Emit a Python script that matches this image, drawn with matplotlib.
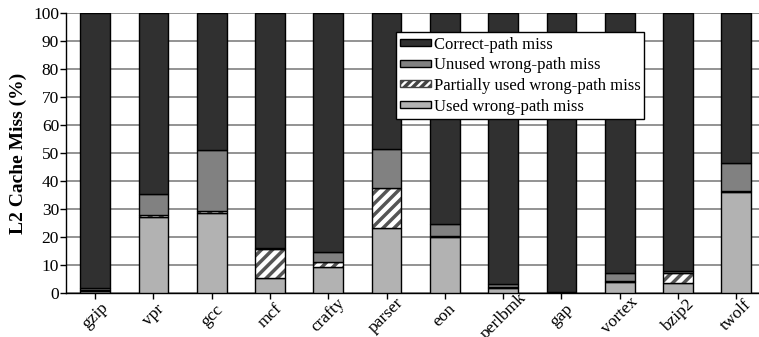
import numpy as np
import matplotlib
matplotlib.use("Agg")
import matplotlib.pyplot as plt
from matplotlib.patches import Patch

plt.rcParams['font.family'] = ['Liberation Serif', 'DejaVu Serif']
plt.rcParams['hatch.linewidth'] = 2.5

benchmarks = ["gzip", "vpr", "gcc", "mcf", "crafty", "parser",
              "eon", "perlbmk", "gap", "vortex", "bzip2", "twolf"]

# percent of L2 misses, stacked bottom to top
used = [1.0, 27.4, 28.6, 5.3, 9.3, 23.4, 20.2, 2.0, 0.2, 3.9, 3.8, 36.3]
partial = [0.3, 0.5, 0.9, 10.6, 2.0, 14.1, 0.3, 0.4, 0.1, 0.6, 3.3, 0.3]
unused = [0.6, 7.6, 21.7, 0.2, 3.3, 14.0, 4.1, 1.0, 0.1, 2.6, 1.0, 9.8]
correct = [100 - a - b - c for a, b, c in zip(used, partial, unused)]

labels = ["Correct-path miss", "Unused wrong-path miss",
          "Partially used wrong-path miss", "Used wrong-path miss"]

x = np.arange(len(benchmarks))
w = 0.51
lw = 1.0

fig = plt.figure(figsize=(7.59, 3.37), dpi=100)
ax = fig.add_axes([66/759, 1 - 293.3/337, 1 - 66/759, 280/337])

b_used = np.array(used)
b_part = b_used + np.array(partial)
b_unused = b_part + np.array(unused)

ax.bar(x, used, w, color="#b2b2b2", edgecolor="black", linewidth=lw, zorder=3)
# hatched segment: gray stripes on white, then a black outline on top
ax.bar(x, partial, w, bottom=b_used, color="white", edgecolor="#555555",
       hatch="///", linewidth=0, zorder=3)
ax.bar(x, partial, w, bottom=b_used, fill=False, edgecolor="black",
       linewidth=lw, zorder=3)
ax.bar(x, unused, w, bottom=b_part, color="#818181", edgecolor="black",
       linewidth=lw, zorder=3)
ax.bar(x, correct, w, bottom=b_unused, color="#303030", edgecolor="black",
       linewidth=lw, zorder=3)

handles = [
    Patch(facecolor="#303030", edgecolor="black", linewidth=lw),
    Patch(facecolor="#818181", edgecolor="black", linewidth=lw),
    Patch(facecolor="white", edgecolor="#444444", hatch="////", linewidth=lw),
    Patch(facecolor="#b2b2b2", edgecolor="black", linewidth=lw),
]
leg = ax.legend(handles, labels, loc="upper left", bbox_to_anchor=(0.476, 0.932),
                fontsize=12, frameon=True, fancybox=False, framealpha=1,
                edgecolor="black", handlelength=1.86, handleheight=0.25,
                handletextpad=0.15, borderpad=0.25, labelspacing=0.28,
                borderaxespad=0)
leg.get_frame().set_linewidth(1.0)
leg.set_zorder(5)

ax.set_xlim(-0.5, 11.39)
ax.set_ylim(0, 100)
ax.set_yticks(np.arange(0, 101, 10))
ax.yaxis.grid(True, color="#808080", linewidth=1.2, zorder=0)
ax.set_axisbelow(True)
ax.set_xticks(x)
# slanted names centred a little below their ticks
ax.set_xticklabels(benchmarks, rotation=45, ha="center", va="center",
                   rotation_mode="anchor", fontsize=12.5)
ax.tick_params(axis="y", labelsize=12.5, length=4, width=1, pad=1)
ax.tick_params(axis="x", length=4, width=1, pad=12)
for s in ["top", "right"]:
    ax.spines[s].set_visible(False)
ax.spines["left"].set_linewidth(1.0)
ax.spines["bottom"].set_linewidth(1.0)

ax.set_ylabel("L2 Cache Miss (%)", fontsize=14, fontweight="bold", labelpad=4)

fig.savefig("out.png", dpi=100)
